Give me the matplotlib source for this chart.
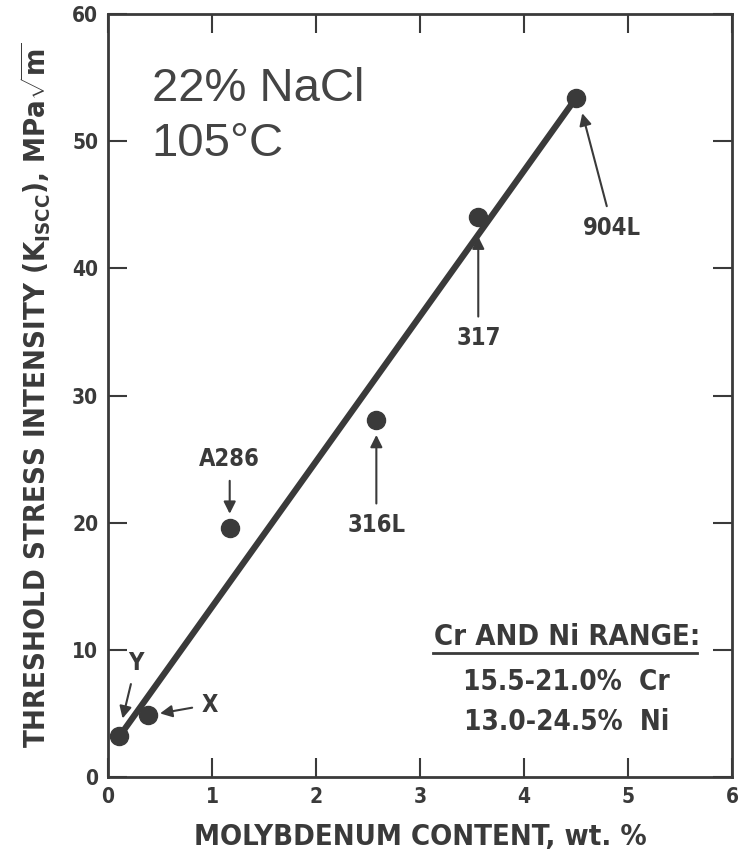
import matplotlib
matplotlib.use('Agg')
import matplotlib.pyplot as plt

# ── Dados ──────────────────────────────────────────────────────────────────
ligas = ['Y', 'X', 'A286', '316L', '317', '904L']
mo = [0.11, 0.38, 1.17, 2.58, 3.56, 4.5]
kiscc = [3.2, 4.9, 19.6, 28.1, 44.0, 53.4]

# linha de tendência (Y -> 904L)
fit_x = [0.11, 4.5]
fit_y = [3.2, 53.4]

# posição dos rótulos e pontas das setas
lab_xy = {'Y': (0.27, 9.0), 'X': (0.98, 5.7), 'A286': (1.17, 25.0),
          '316L': (2.58, 19.8), '317': (3.56, 34.5), '904L': (4.85, 43.2)}
tip_xy = {'Y': (0.14, 4.6), 'X': (0.5, 5.0), 'A286': (1.17, 20.7),
          '316L': (2.58, 26.9), '317': (3.56, 42.5), '904L': (4.56, 52.2)}

COR = '#3a3a3a'
FK = dict(family='DejaVu Sans', stretch='condensed', fontweight='bold', color=COR)

MT = 'DejaVu Sans:weight=bold:stretch=condensed'
plt.rcParams['mathtext.fontset'] = 'custom'
plt.rcParams['mathtext.rm'] = MT
plt.rcParams['mathtext.it'] = MT
plt.rcParams['mathtext.bf'] = MT

fig = plt.figure(figsize=(7.45, 8.56), dpi=100)
ax = fig.add_axes([0.145, 0.0923, 0.8376, 0.8913])

ax.plot(fit_x, fit_y, color=COR, lw=4.5, solid_capstyle='round', zorder=2)
ax.plot(mo, kiscc, 'o', color=COR, ms=13, zorder=3)

for nome in ligas:
    ax.annotate(nome, xy=tip_xy[nome], xytext=lab_xy[nome],
                ha='center', va='center', fontsize=17, **FK,
                arrowprops=dict(arrowstyle='-|>', color=COR, lw=1.5,
                                mutation_scale=18, shrinkA=5, shrinkB=0))

ax.text(0.07, 0.93, '22% NaCl\n105°C', transform=ax.transAxes,
        fontsize=34, family='Liberation Sans', color='#444444',
        va='top', ha='left', linespacing=1.3)

# caixa Cr / Ni
ax.text(0.735, 0.183, 'Cr AND Ni RANGE:', transform=ax.transAxes,
        ha='center', va='center', fontsize=21, **FK)
ax.plot([0.52, 0.944], [0.163, 0.163], transform=ax.transAxes,
        color=COR, lw=2)
ax.text(0.735, 0.124, '15.5-21.0%  Cr', transform=ax.transAxes,
        ha='center', va='center', fontsize=20, **FK)
ax.text(0.735, 0.072, '13.0-24.5%  Ni', transform=ax.transAxes,
        ha='center', va='center', fontsize=20, **FK)

ax.set_xlim(0, 6)
ax.set_ylim(0, 60)
ax.set_xticks(range(0, 7))
ax.set_yticks(range(0, 61, 10))
ax.tick_params(direction='in', length=14, width=1.5, color=COR,
               top=True, right=True, labelsize=15, labelcolor=COR, pad=7)
for lab in ax.get_xticklabels() + ax.get_yticklabels():
    lab.set_family('DejaVu Sans')
    lab.set_stretch('condensed')
    lab.set_fontweight('bold')
for s in ax.spines.values():
    s.set_color(COR)
    s.set_linewidth(2)

ax.set_xlabel('MOLYBDENUM CONTENT, wt. %', fontsize=21, labelpad=12, **FK)
ax.set_ylabel(r'THRESHOLD STRESS INTENSITY (K$\mathregular{_{ISCC}}$), MPa$\sqrt{\mathregular{m}}$',
              fontsize=21, labelpad=14, **FK)

fig.savefig('out.png', dpi=100)
plt.close(fig)
